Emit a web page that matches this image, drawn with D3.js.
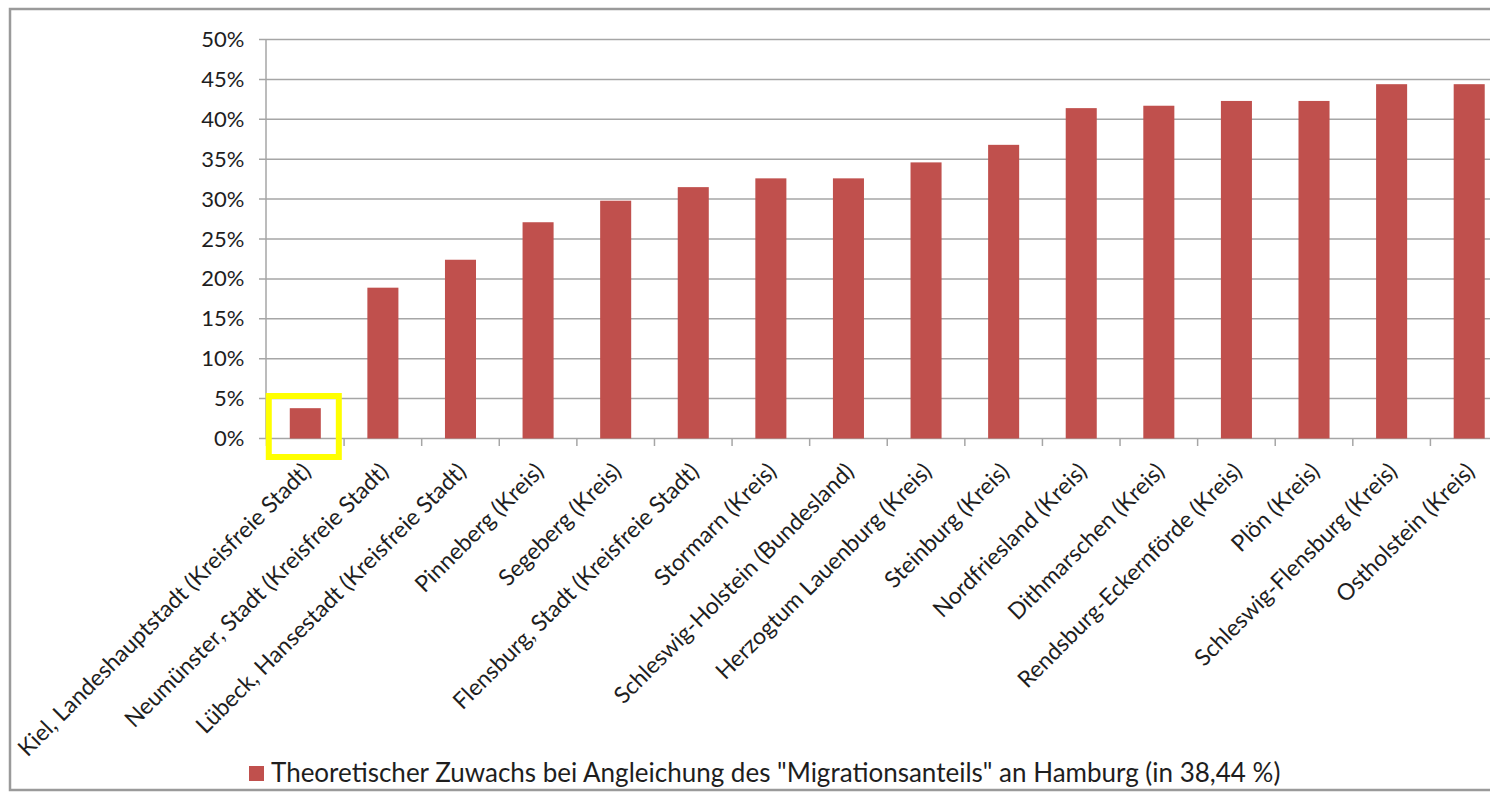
<!DOCTYPE html>
<html>
<head>
<meta charset="utf-8">
<script src="https://cdn.jsdelivr.net/npm/d3@7"></script>
<style>
  body { margin: 0; background: #fff; overflow: hidden; }
  text { font-family: Lato, "Open Sans", sans-serif; fill: #1e1e1e; }
</style>
</head>
<body>
<script>
// Kreise und kreisfreie Staedte in Schleswig-Holstein
var categories = [
  "Kiel, Landeshauptstadt (Kreisfreie Stadt)",
  "Neumünster, Stadt (Kreisfreie Stadt)",
  "Lübeck, Hansestadt (Kreisfreie Stadt)",
  "Pinneberg (Kreis)",
  "Segeberg (Kreis)",
  "Flensburg, Stadt (Kreisfreie Stadt)",
  "Stormarn (Kreis)",
  "Schleswig-Holstein (Bundesland)",
  "Herzogtum Lauenburg (Kreis)",
  "Steinburg (Kreis)",
  "Nordfriesland (Kreis)",
  "Dithmarschen (Kreis)",
  "Rendsburg-Eckernförde (Kreis)",
  "Plön (Kreis)",
  "Schleswig-Flensburg (Kreis)",
  "Ostholstein (Kreis)"
];

// Zuwachs in Prozent
var values = [3.8, 18.9, 22.4, 27.1, 29.8, 31.5, 32.6, 32.6, 34.6, 36.8, 41.4, 41.7, 42.3, 42.3, 44.4, 44.4];

var yTicks = [0, 5, 10, 15, 20, 25, 30, 35, 40, 45, 50];
var highlighted = ["Kiel, Landeshauptstadt (Kreisfreie Stadt)"];
var legendLabel = 'Theoretischer Zuwachs bei Angleichung des "Migrationsanteils" an Hamburg (in 38,44 %)';

var width = 1490;
var height = 792;
var barColor = "#c0504d";

var svg = d3.select("body")
            .append("svg")
            .attr("width", width)
            .attr("height", height);

// outer chart frame (runs off the right edge like the screenshot)
svg.append("rect")
    .attr("x", 10)
    .attr("y", 9)
    .attr("width", 1500)
    .attr("height", 781)
    .attr("fill", "#fff")
    .attr("stroke", "#9a9a9a")
    .attr("stroke-width", 2.5);

var x = d3.scaleBand()
          .domain(categories)
          .range([266.5, 1508])
          .paddingInner(0.6)
          .paddingOuter(0.3);

var y = d3.scaleLinear()
          .domain([0, 50])
          .range([438.5, 39.5]);

// gridlines
svg.append("g")
    .selectAll("line")
    .data(yTicks)
    .enter()
      .append("line")
      .attr("x1", 259)
      .attr("x2", 1510)
      .attr("y1", function(d){ return y(d); })
      .attr("y2", function(d){ return y(d); })
      .attr("stroke", "#a6a6a6")
      .attr("stroke-width", 1.5);

// y axis
var yAxis = d3.axisLeft(y)
              .tickValues(yTicks)
              .tickSize(0)
              .tickPadding(21)
              .tickFormat(function(d){ return d + "%"; });

var gy = svg.append("g")
    .attr("transform", "translate(265.5,0)")
    .call(yAxis);
gy.select(".domain").attr("stroke", "#a6a6a6").attr("stroke-width", 1.5);
gy.selectAll("text")
    .style("font-size", "22px")
    .attr("fill", "#2a2a2a");

// x axis ticks between categories
var boundaries = categories.map(function(c){ return x(c) - x.step() * x.paddingInner() / 2; });
svg.append("g")
    .selectAll("line")
    .data(boundaries)
    .enter()
      .append("line")
      .attr("x1", function(d){ return d; })
      .attr("x2", function(d){ return d; })
      .attr("y1", 438.5)
      .attr("y2", 446)
      .attr("stroke", "#a6a6a6")
      .attr("stroke-width", 1.5);

// bars
svg.append("g")
    .selectAll("rect")
    .data(values)
    .enter()
      .append("rect")
      .attr("x", function(d, i){ return x(categories[i]); })
      .attr("width", x.bandwidth())
      .attr("y", function(d){ return y(d); })
      .attr("height", function(d){ return y(0) - y(d); })
      .attr("fill", barColor);

// category labels, rotated
svg.append("g")
    .selectAll("text")
    .data(categories)
    .enter()
      .append("text")
      .attr("transform", function(d){
        return "translate(" + (x(d) + x.bandwidth() / 2 + 7) + ",473) rotate(-45)";
      })
      .attr("text-anchor", "end")
      .style("font-size", "23px")
      .text(function(d){ return d; });

// yellow highlight box
svg.append("g")
    .selectAll("rect")
    .data(highlighted)
    .enter()
      .append("rect")
      .attr("x", function(d){ return x(d) - 21; })
      .attr("y", 396)
      .attr("width", x.bandwidth() + 39)
      .attr("height", 61)
      .attr("fill", "none")
      .attr("stroke", "#ffff00")
      .attr("stroke-width", 6);

// legend
var legend = svg.append("g").attr("transform", "translate(249,766)");
legend.append("rect")
    .attr("width", 15)
    .attr("height", 15)
    .attr("fill", barColor);
legend.append("text")
    .attr("x", 22)
    .attr("y", 16)
    .style("font-size", "26px")
    .text(legendLabel);
</script>
</body>
</html>
